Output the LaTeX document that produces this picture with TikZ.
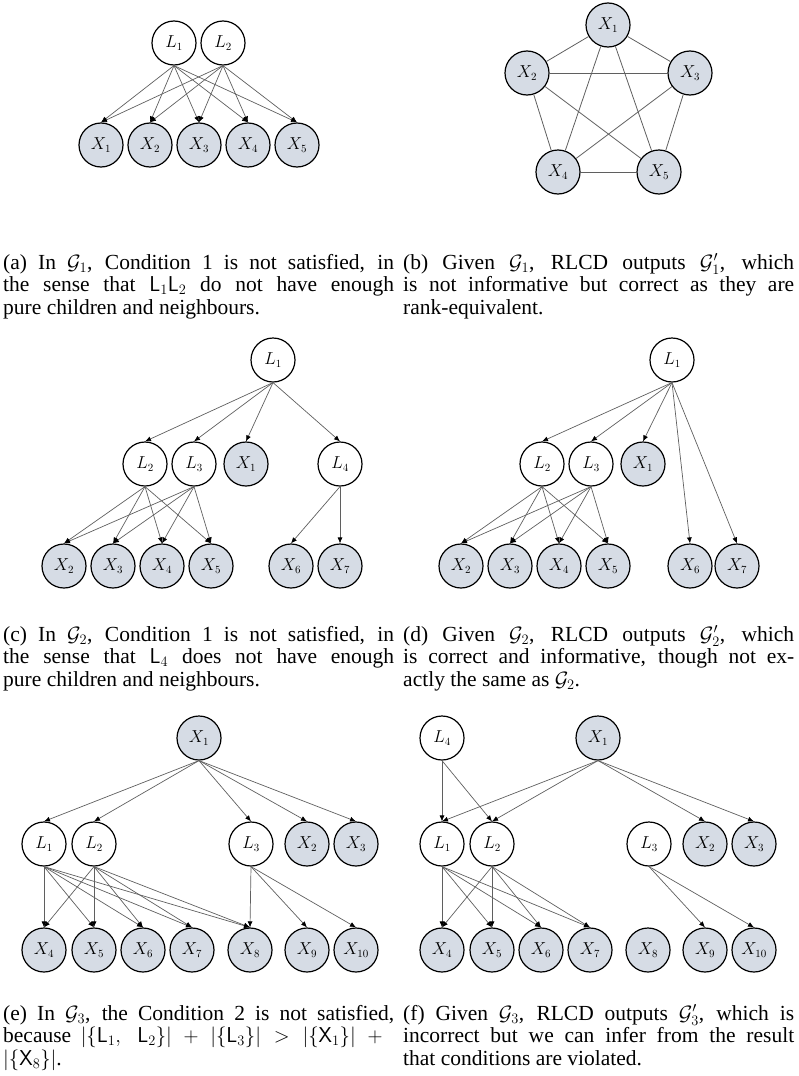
\documentclass[tikz,border=0pt]{standalone}
\usepackage{fontspec}
\setmainfont{Liberation Serif}
\usetikzlibrary{arrows.meta}
\definecolor{obsfill}{RGB}{214,220,229}
\definecolor{edgegray}{RGB}{95,95,95}
\newcommand{\capsize}{\fontsize{21.5}{22.5}\selectfont}
% caption paragraph: justified, broken at the given \linebreak points
\newcommand{\captext}[1]{\parbox[t]{391pt}{\capsize\tolerance=9999\hyphenpenalty=10000
  \thickmuskip=5mu plus 4mu\medmuskip=4mu plus 4mu\relax #1}}
\tikzset{
  lat/.style={circle, draw=black, line width=1.2pt, fill=white, minimum size=44pt,
              inner sep=0pt, font=\fontsize{16}{18}\selectfont},
  obs/.style={lat, fill=obsfill},
  edge/.style={draw=edgegray, line width=0.7pt, -{Latex[length=6pt,width=5pt,black]}},
  undir/.style={draw=edgegray, line width=0.8pt},
  caption/.style={anchor=base west, inner sep=0pt}
}
\begin{document}
\begin{tikzpicture}[x=1pt,y=-1pt]
\useasboundingbox (0,0) rectangle (798,1076);

% ---------- (a) ----------
\node[lat] (aL1) at (174,43) {$L_1$};
\node[lat] (aL2) at (223,43) {$L_2$};
\foreach \i/\x in {1/101,2/150,3/199,4/248,5/297}
  \node[obs] (aX\i) at (\x,145) {$X_\i$};
\foreach \l in {1,2}
  \foreach \i in {1,...,5}
    \draw[edge] (aL\l.south) -- (aX\i.north);

% ---------- (b) ----------
\node[obs] (bX1) at (608,25) {$X_1$};
\node[obs] (bX2) at (527,73) {$X_2$};
\node[obs] (bX3) at (690,73) {$X_3$};
\node[obs] (bX4) at (558,172) {$X_4$};
\node[obs] (bX5) at (659,172) {$X_5$};
\foreach \a/\b in {1/2,1/3,1/4,1/5,2/3,2/4,2/5,3/4,3/5,4/5}
  \draw[undir] (bX\a) -- (bX\b);

% ---------- captions (a), (b) ----------
\node[caption] (capa) at (3,269) {\captext{(a) In $\mathcal{G}_1$, Condition 1 is not satisfied, in\linebreak
  the sense that $\mathsf{L}_1\mathsf{L}_2$ do not have enough\linebreak
  pure children and neighbours.}};
\node[caption] (capb) at (403,269) {\captext{(b) Given $\mathcal{G}_1$, RLCD outputs $\mathcal{G}_1'$, which\linebreak
  is not informative but correct as they are\linebreak
  rank-equivalent.}};

% ---------- (c) ----------
\node[lat] (cL1) at (273,360) {$L_1$};
\node[lat] (cL2) at (145,464) {$L_2$};
\node[lat] (cL3) at (194,464) {$L_3$};
\node[obs] (cX1) at (246,464) {$X_1$};
\node[lat] (cL4) at (340,464) {$L_4$};
\foreach \i/\x in {2/64,3/113,4/162,5/211,6/291,7/340}
  \node[obs] (cX\i) at (\x,566) {$X_\i$};
\foreach \t in {cL2,cL3,cX1,cL4}
  \draw[edge] (cL1.south) -- (\t.north);
\foreach \l in {2,3}
  \foreach \i in {2,...,5}
    \draw[edge] (cL\l.south) -- (cX\i.north);
\foreach \i in {6,7}
  \draw[edge] (cL4.south) -- (cX\i.north);

% ---------- (d) ----------
\node[lat] (dL1) at (672,360) {$L_1$};
\node[lat] (dL2) at (542,464) {$L_2$};
\node[lat] (dL3) at (591,464) {$L_3$};
\node[obs] (dX1) at (643,464) {$X_1$};
\foreach \i/\x in {2/461,3/510,4/559,5/608,6/690,7/737}
  \node[obs] (dX\i) at (\x,566) {$X_\i$};
\foreach \t in {dL2,dL3,dX1,dX6,dX7}
  \draw[edge] (dL1.south) -- (\t.north);
\foreach \l in {2,3}
  \foreach \i in {2,...,5}
    \draw[edge] (dL\l.south) -- (dX\i.north);

% ---------- captions (c), (d) ----------
\node[caption] (capc) at (3,641) {\captext{(c) In $\mathcal{G}_2$, Condition 1 is not satisfied, in\linebreak
  the sense that $\mathsf{L}_4$ does not have enough\linebreak
  pure children and neighbours.}};
\node[caption] (capd) at (403,641) {\captext{(d) Given $\mathcal{G}_2$, RLCD outputs $\mathcal{G}_2'$, which\linebreak
  is correct and informative, though not ex-\linebreak
  actly the same as $\mathcal{G}_2$.}};

% ---------- (e) ----------
\node[obs] (eX1) at (199,738) {$X_1$};
\node[lat] (eL1) at (44,844) {$L_1$};
\node[lat] (eL2) at (94,844) {$L_2$};
\node[lat] (eL3) at (251,844) {$L_3$};
\node[obs] (eX2) at (307,844) {$X_2$};
\node[obs] (eX3) at (356,844) {$X_3$};
\foreach \i/\x in {4/44,5/94,6/143,7/192,8/250,9/307,10/356}
  \node[obs] (eX\i) at (\x,950) {$X_{\i}$};
\foreach \t in {eL1,eL2,eL3,eX2,eX3}
  \draw[edge] (eX1.south) -- (\t.north);
\foreach \l in {1,2}
  \foreach \i in {4,...,8}
    \draw[edge] (eL\l.south) -- (eX\i.north);
\foreach \i in {8,9,10}
  \draw[edge] (eL3.south) -- (eX\i.north);

% ---------- (f) ----------
\node[lat] (fL4) at (442,738) {$L_4$};
\node[obs] (fX1) at (598,738) {$X_1$};
\node[lat] (fL1) at (442,844) {$L_1$};
\node[lat] (fL2) at (492,844) {$L_2$};
\node[lat] (fL3) at (649,844) {$L_3$};
\node[obs] (fX2) at (705,844) {$X_2$};
\node[obs] (fX3) at (754,844) {$X_3$};
\foreach \i/\x in {4/442,5/492,6/541,7/590,8/648,9/705,10/754}
  \node[obs] (fX\i) at (\x,950) {$X_{\i}$};
\foreach \t in {fL1,fL2}
  \draw[edge] (fL4.south) -- (\t.north);
\foreach \t in {fL1,fL2,fX2,fX3}
  \draw[edge] (fX1.south) -- (\t.north);
\foreach \l in {1,2}
  \foreach \i in {4,...,7}
    \draw[edge] (fL\l.south) -- (fX\i.north);
\foreach \i in {9,10}
  \draw[edge] (fL3.south) -- (fX\i.north);

% ---------- captions (e), (f) ----------
\node[caption] (cape) at (3,1020) {\captext{(e) In $\mathcal{G}_3$, the Condition 2 is not satisfied,\linebreak
  because $|\{\mathsf{L}_1,\;\mathsf{L}_2\}|+|\{\mathsf{L}_3\}|>|\{\mathsf{X}_1\}|+{}$\linebreak
  $|\{\mathsf{X}_8\}|$.}};
\node[caption] (capf) at (403,1020) {\captext{(f) Given $\mathcal{G}_3$, RLCD outputs $\mathcal{G}_3'$, which is\linebreak
  incorrect but we can infer from the result\linebreak
  that conditions are violated.}};
\end{tikzpicture}
\end{document}
